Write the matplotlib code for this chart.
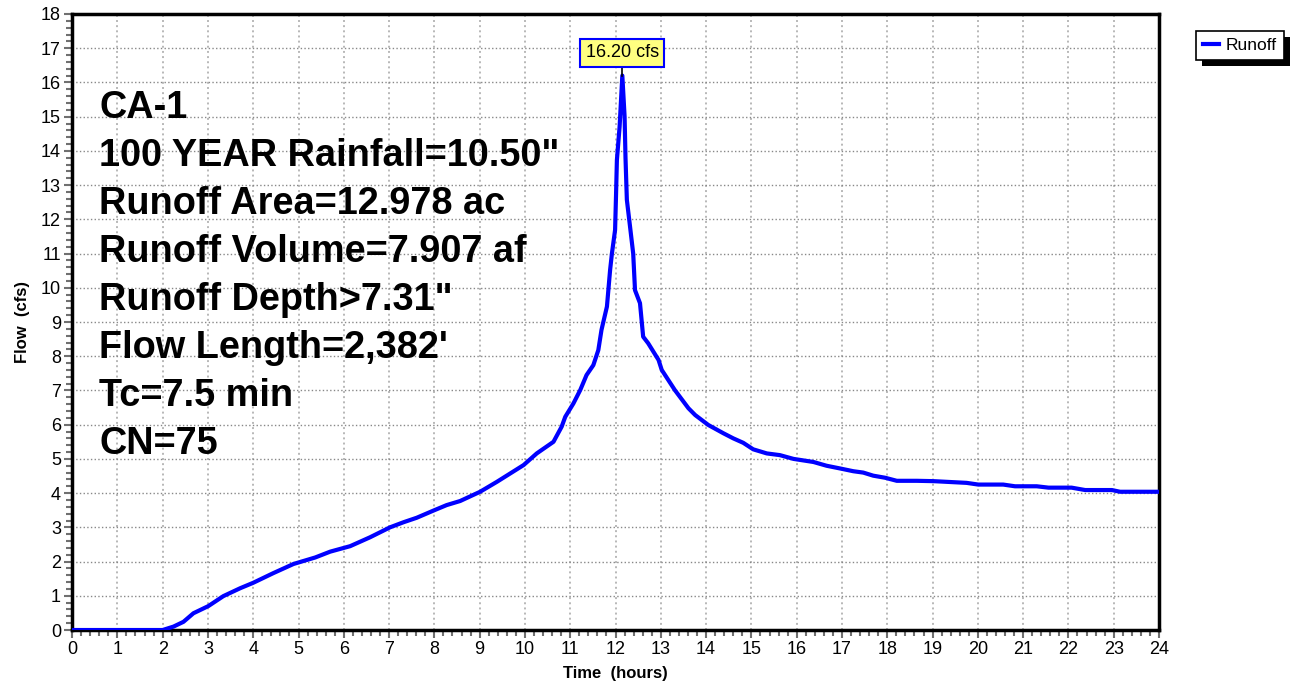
import numpy as np
import matplotlib.pyplot as plt
from matplotlib.ticker import MultipleLocator
from matplotlib.patches import Rectangle

plt.rcParams['font.family'] = ['Liberation Sans', 'DejaVu Sans']

# Hydrograph ordinates (hours, cfs)
time_hr = [0.0, 2.00, 2.24, 2.46, 2.68, 3.01, 3.34, 3.71, 4.00, 4.44, 4.89,
           5.37, 5.70, 6.14, 6.58, 7.02, 7.32, 7.61, 7.98, 8.27, 8.57, 9.01,
           9.38, 9.97, 10.26, 10.63, 10.81, 10.89, 11.07, 11.22, 11.36, 11.51,
           11.62, 11.69, 11.81, 11.88, 11.92, 11.99, 12.01, 12.03, 12.09, 12.15,
           12.20, 12.22, 12.25, 12.32, 12.39, 12.43, 12.54, 12.61, 12.72, 12.95,
           13.02, 13.31, 13.61, 13.76, 14.05, 14.38, 14.60, 14.82, 15.04, 15.34,
           15.63, 15.93, 16.37, 16.66, 16.96, 17.25, 17.47, 17.69, 17.95, 18.21,
           18.65, 19.02, 19.75, 20.01, 20.56, 20.82, 21.30, 21.56, 22.07, 22.37,
           22.96, 23.14, 24.00]
flow_cfs = [0.0, 0.0, 0.10, 0.24, 0.49, 0.70, 0.99, 1.22, 1.38, 1.66, 1.93,
            2.12, 2.29, 2.45, 2.71, 3.00, 3.15, 3.28, 3.49, 3.65, 3.77, 4.04,
            4.33, 4.82, 5.16, 5.50, 5.94, 6.23, 6.62, 7.01, 7.45, 7.74,
            8.18, 8.77, 9.45, 10.52, 11.00, 11.69, 12.66, 13.73, 14.71, 16.20,
            15.00, 13.80, 12.57, 11.79, 11.00, 9.93, 9.55, 8.57, 8.38, 7.89,
            7.60, 7.01, 6.48, 6.28, 5.99, 5.75, 5.60, 5.47, 5.28, 5.16,
            5.11, 5.00, 4.91, 4.80, 4.72, 4.64, 4.60, 4.51, 4.45, 4.36,
            4.36, 4.35, 4.30, 4.25, 4.25, 4.20, 4.20, 4.16, 4.16, 4.09,
            4.09, 4.04, 4.04]

peak_time = 12.15
peak_flow = 16.20

info_lines = ["CA-1",
              "100 YEAR Rainfall=10.50\"",
              "Runoff Area=12.978 ac",
              "Runoff Volume=7.907 af",
              "Runoff Depth>7.31\"",
              "Flow Length=2,382'",
              "Tc=7.5 min",
              "CN=75"]

fig = plt.figure(figsize=(12.96, 6.86), dpi=100)
ax = fig.add_axes([0.0556, 0.0816, 0.8387, 0.898])

ax.plot(time_hr, flow_cfs, color='#0000ff', lw=3.0, label='Runoff',
        solid_joinstyle='round', zorder=3)

ax.set_xlim(0, 24)
ax.set_ylim(0, 18)
ax.xaxis.set_major_locator(MultipleLocator(1))
ax.xaxis.set_minor_locator(MultipleLocator(0.2))
ax.yaxis.set_major_locator(MultipleLocator(1))
ax.yaxis.set_minor_locator(MultipleLocator(0.2))

ax.grid(axis='x', which='major', color='#b8b8b8', ls=':', lw=1.4)
ax.grid(axis='y', which='major', color='#888888', ls=':', lw=1.0)
ax.set_axisbelow(True)

ax.tick_params(which='major', direction='out', length=6, width=1.5,
               color='#707070', labelsize=13, labelcolor='black', pad=2)
ax.tick_params(which='minor', direction='out', length=4, width=1.5,
               color='#707070')

for s in ax.spines.values():
    s.set_linewidth(2.5)
    s.set_color('black')

ax.set_xlabel('Time  (hours)', fontsize=12, fontweight='bold', labelpad=6)
ax.set_ylabel('Flow  (cfs)', fontsize=12, fontweight='bold', labelpad=8)

# peak flow callout
ax.plot([peak_time, peak_time], [peak_flow, 16.62], color='black', lw=1.2,
        zorder=4)
ax.annotate(f'{peak_flow:.2f} cfs', xy=(peak_time, 16.62), xytext=(0, 0),
            textcoords='offset points', ha='center', va='bottom',
            fontsize=13,
            bbox=dict(boxstyle='square,pad=0.3', fc='#ffff80', ec='#0000ff',
                      lw=1.5), zorder=5)

ax.text(0.025, 0.877, "\n".join(info_lines), transform=ax.transAxes,
        ha='left', va='top', fontsize=27.3, fontweight='bold',
        linespacing=1.43, zorder=4)

leg = fig.legend(loc='upper left', bbox_to_anchor=(0.923, 0.955),
                 fontsize=12.5, frameon=True, fancybox=False, framealpha=1,
                 handlelength=0.9, handletextpad=0.4, borderpad=0.4,
                 borderaxespad=0)
leg.get_frame().set_edgecolor('black')
leg.get_frame().set_linewidth(1.2)

# solid black drop shadow behind the legend box
fig.canvas.draw()
bb = leg.get_window_extent().transformed(fig.transFigure.inverted())
off_x, off_y = 6 / 1296, 6 / 686
fig.add_artist(Rectangle((bb.x0 + off_x, bb.y0 - off_y), bb.width, bb.height,
                         transform=fig.transFigure, fc='black', ec='none',
                         zorder=leg.get_zorder() - 1))

fig.savefig('out.png', dpi=100)
